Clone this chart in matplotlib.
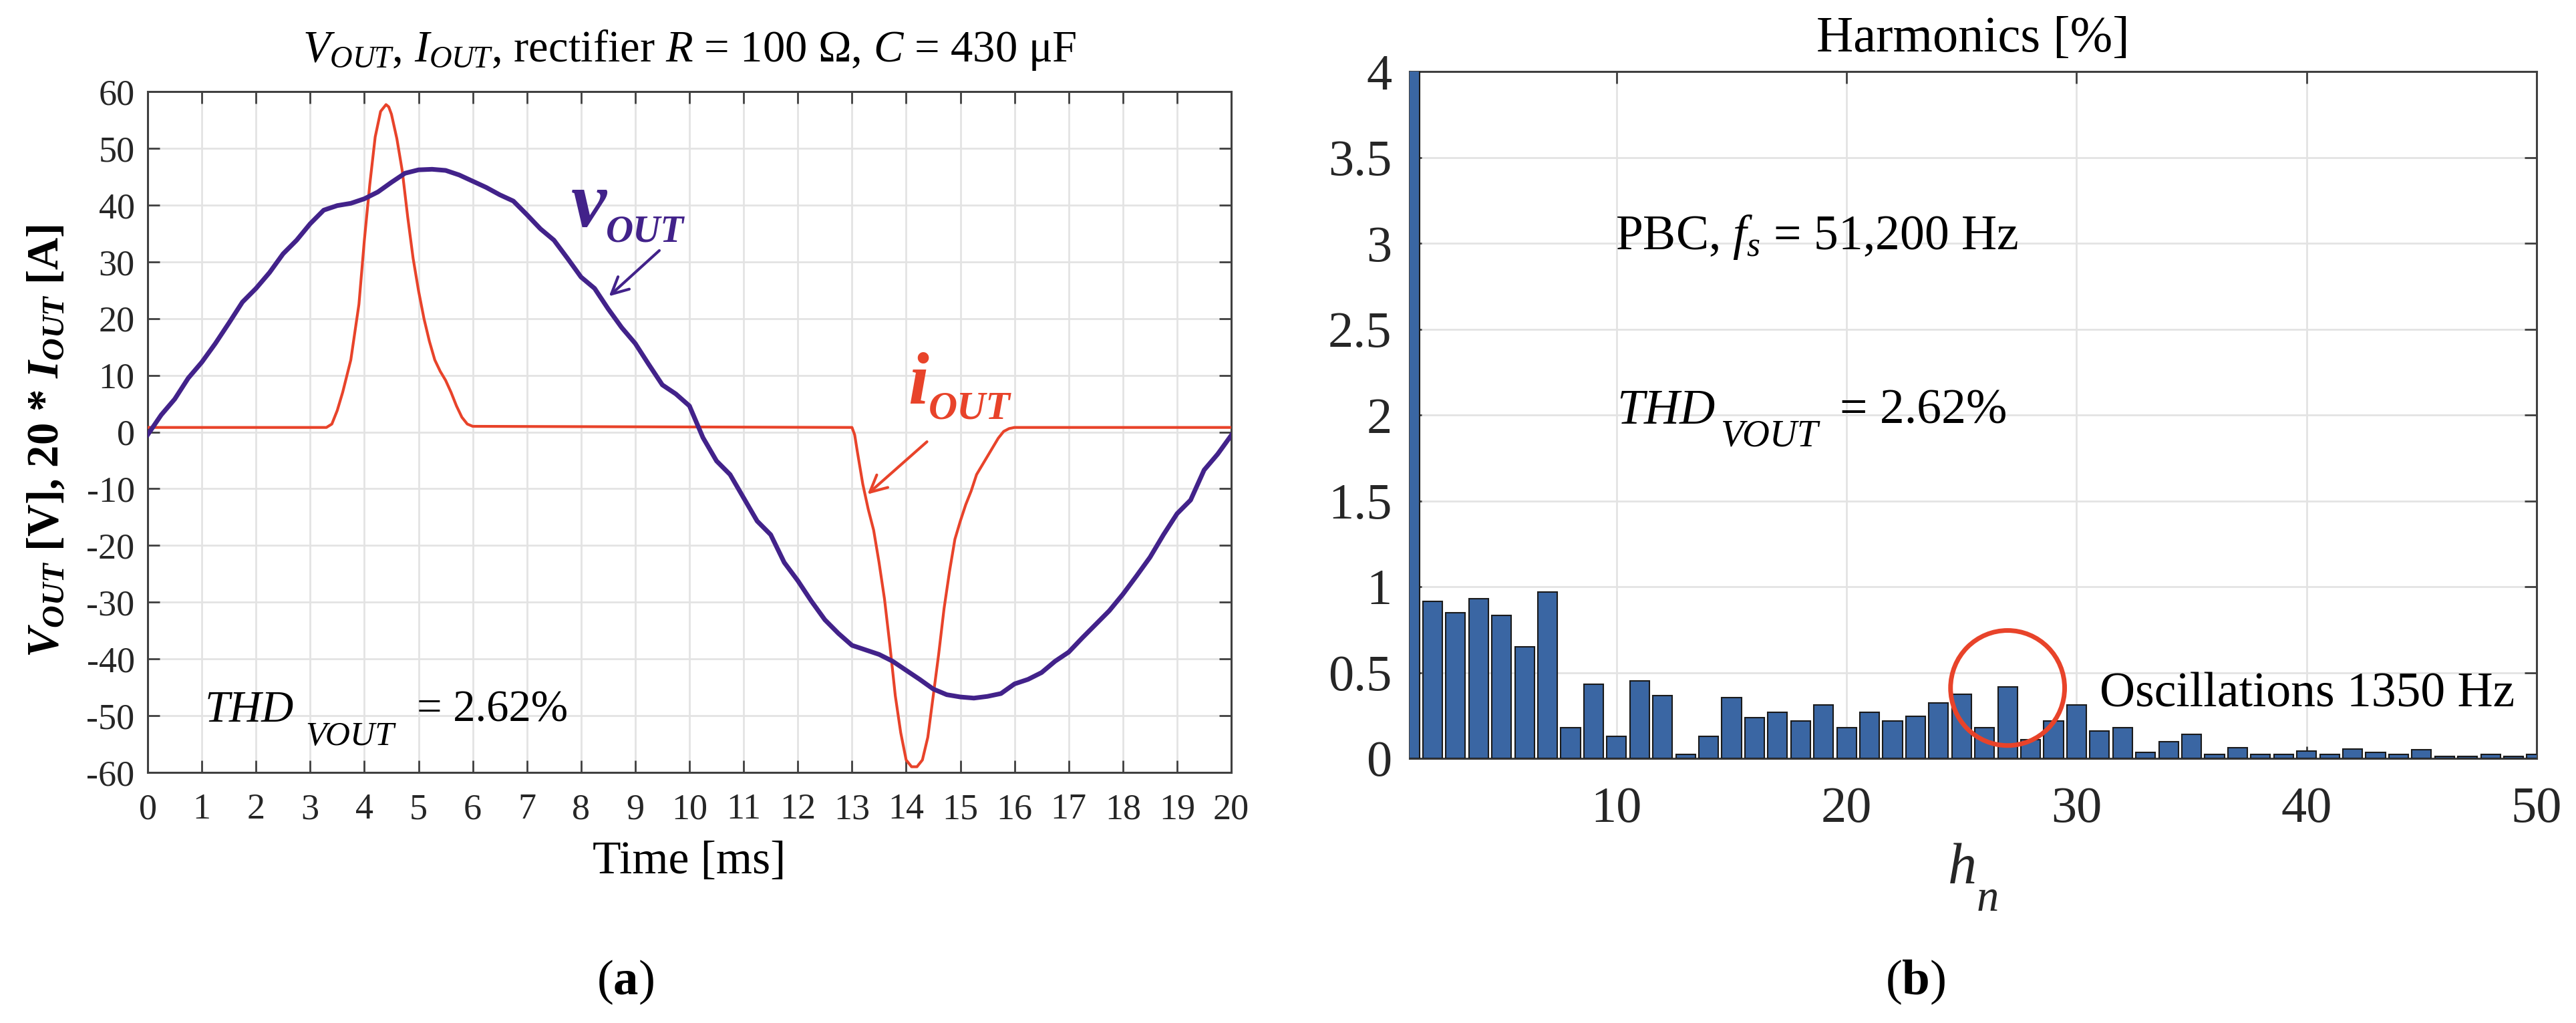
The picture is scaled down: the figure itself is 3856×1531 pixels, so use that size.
import numpy as np
import matplotlib
matplotlib.use("Agg")
import matplotlib.pyplot as plt
from matplotlib.patches import Ellipse

# ============================================
# DATA
# ============================================

# (a) output voltage, sampled every 0.25 ms
t_v = [0, 0.25, 0.5, 0.75, 1, 1.25, 1.5, 1.75, 2, 2.25, 2.5, 2.75, 3, 3.25, 3.5, 3.75,
       4, 4.25, 4.5, 4.75, 5, 5.25, 5.5, 5.75, 6, 6.25, 6.5, 6.75, 7, 7.25, 7.5, 7.75,
       8, 8.25, 8.5, 8.75, 9, 9.25, 9.5, 9.75, 10, 10.25, 10.5, 10.75, 11, 11.25, 11.5,
       11.75, 12, 12.25, 12.5, 12.75, 13, 13.25, 13.5, 13.75, 14, 14.25, 14.5, 14.75,
       15, 15.25, 15.5, 15.75, 16, 16.25, 16.5, 16.75, 17, 17.25, 17.5, 17.75, 18,
       18.25, 18.5, 18.75, 19, 19.25, 19.5, 19.75, 20]
v_out = [-0.5, 3, 5.8, 9.5, 12.3, 15.6, 19.2, 22.9, 25.3, 28.1, 31.4, 33.8, 36.7, 39.1,
         39.9, 40.3, 41.1, 42.3, 44, 45.6, 46.2, 46.3, 46.1, 45.3, 44.2, 43.1, 41.8,
         40.7, 38.3, 35.8, 33.8, 30.6, 27.3, 25.3, 21.7, 18.4, 15.6, 11.9, 8.3, 6.7,
         4.6, -1, -5.1, -7.5, -11.6, -15.7, -18.1, -23, -26.2, -29.8, -33.1, -35.5,
         -37.6, -38.4, -39.2, -40.4, -42, -43.6, -45.3, -46.3, -46.7, -46.9, -46.6,
         -46.1, -44.4, -43.6, -42.4, -40.4, -38.8, -36.3, -33.9, -31.5, -28.6, -25.4,
         -22.1, -18.1, -14.4, -12, -6.7, -3.9, -0.6]

# (a) output current x 20
t_i = [0, 3.3, 3.4, 3.5, 3.6, 3.75, 3.9, 4.0, 4.1, 4.2, 4.3, 4.4, 4.45, 4.5, 4.6, 4.7,
       4.8, 4.9, 5.0, 5.1, 5.2, 5.3, 5.4, 5.5, 5.6, 5.7, 5.8, 5.9, 6.0,
       13.0, 13.05, 13.1, 13.2, 13.3, 13.4, 13.5, 13.6, 13.7, 13.8, 13.9, 14.0, 14.1,
       14.2, 14.3, 14.4, 14.5, 14.6, 14.7, 14.8, 14.9, 15.0, 15.1, 15.2, 15.3, 15.4,
       15.5, 15.6, 15.7, 15.8, 15.9, 16.0, 20]
i_out = [0.8, 0.8, 1.4, 3.8, 7, 12.7, 22.5, 33.8, 43.6, 52, 56.5, 57.7, 57.3, 56, 51.7,
         46, 37.9, 30.6, 24.9, 20, 16, 12.7, 10.7, 9.1, 7, 4.6, 2.6, 1.4, 1.0,
         0.8, -0.5, -3.5, -9.2, -13.6, -17.3, -23, -29.4, -37.6, -46.5, -53, -57.8, -59,
         -59, -57.8, -53.8, -46.5, -39.2, -31.1, -24.6, -18.9, -15.7, -12.8, -10.4,
         -7.5, -5.9, -4.3, -2.7, -1.1, 0.1, 0.6, 0.8, 0.8]

# (b) harmonic spectrum [%], h = 1..50 (h1 is the fundamental, clipped)
harm_n = list(range(1, 51))
harm_pct = [100, 0.915, 0.85, 0.93, 0.834, 0.65, 0.97, 0.18, 0.43, 0.13,
            0.45, 0.364, 0.022, 0.13, 0.353, 0.237, 0.268, 0.217, 0.312, 0.18,
            0.27, 0.217, 0.246, 0.322, 0.373, 0.18, 0.415, 0.11, 0.217, 0.31,
            0.16, 0.18, 0.034, 0.097, 0.139, 0.022, 0.064, 0.022, 0.022, 0.044,
            0.022, 0.054, 0.036, 0.022, 0.049, 0.01, 0.01, 0.022, 0.01, 0.022]

left_yticks = list(range(-60, 61, 10))
left_xticks = list(range(0, 21))
right_xticks = [10, 20, 30, 40, 50]
right_yticks = [0, 0.5, 1, 1.5, 2, 2.5, 3, 3.5, 4]
right_ylabels = ['0', '0.5', '1', '1.5', '2', '2.5', '3', '3.5', '4']

# ============================================
# STYLE
# ============================================

plt.rcParams['font.family'] = ['Liberation Serif', 'DejaVu Serif']
plt.rcParams['mathtext.fontset'] = 'custom'
plt.rcParams['mathtext.rm'] = 'Liberation Serif'
plt.rcParams['mathtext.it'] = 'Liberation Serif:italic'
plt.rcParams['mathtext.bf'] = 'Liberation Serif:bold'
plt.rcParams['mathtext.bfit'] = 'Liberation Serif:bold:italic'
plt.rcParams['axes.unicode_minus'] = False

PURPLE = '#42228a'
RED = '#e8432a'
BAR = '#3a66a3'
GRID = '#e3e3e3'
AXC = '#404040'
TXT = '#262626'

W, H = 3856, 1531
fig = plt.figure(figsize=(W / 100, H / 100), dpi=100)


def frame(ax):
    for sp in ax.spines.values():
        sp.set_color(AXC)
        sp.set_linewidth(2.2)
    ax.tick_params(which='both', direction='in', top=True, right=True,
                   length=13, width=2, color=AXC, labelcolor=TXT)
    ax.grid(True, color=GRID, linewidth=2)
    ax.set_axisbelow(True)


def thd_label(ax, x0, x1, x2, y, dy, size):
    # THD with a large, lowered subscript as in the original
    ax.text(x0, y, 'THD', fontsize=size, style='italic', va='baseline')
    ax.text(x1, y - dy, 'VOUT', fontsize=size * 0.77, style='italic', va='baseline')
    ax.text(x2, y, '= 2.62%', fontsize=size, va='baseline')


# ============================================
# (a) WAVEFORMS
# ============================================

ax1 = fig.add_axes([221 / W, 1 - 1156 / H, 1622 / W, 1019 / H])
frame(ax1)
ax1.plot(t_i, i_out, color=RED, lw=3, zorder=3)
ax1.plot(t_v, v_out, color=PURPLE, lw=5, zorder=4)
ax1.set_xlim(0, 20)
ax1.set_ylim(-60, 60)
ax1.set_xticks(left_xticks)
ax1.set_yticks(left_yticks)
ax1.tick_params(axis='x', labelsize=39, pad=22)
ax1.tick_params(axis='y', labelsize=39, pad=14)

ax1.set_title(r'$V_{OUT}$, $I_{OUT}$, rectifier $R$ = 100 Ω, $C$ = 430 μF',
              fontsize=48, y=1.061, va='center', pad=0)
ax1.set_xlabel('Time [ms]', fontsize=50, va='center')
ax1.xaxis.set_label_coords(0.5, -0.1315)
ax1.set_ylabel(r'$\mathbfit{V}_{\mathbfit{OUT}}$ [V], 20 * $\mathbfit{I}_{\mathbfit{OUT}}$ [A]',
               fontsize=48, fontweight='bold', va='center')
ax1.yaxis.set_label_coords(-0.093, 0.487)

thd_label(ax1, 1.05, 2.91, 4.97, -51, 4.2, 48)

ax1.text(7.81, 36.2, 'v', fontsize=86, fontweight='bold', style='italic',
         color=PURPLE, va='baseline')
ax1.text(8.46, 33.6, 'OUT', fontsize=41, fontweight='bold', style='italic',
         color=PURPLE, va='baseline')
ax1.annotate('', xy=(8.49, 23.7), xytext=(9.47, 32.2),
             arrowprops=dict(arrowstyle='->', color=PURPLE, lw=3,
                             mutation_scale=45))

ax1.text(14.04, 5.0, 'i', fontsize=80, fontweight='bold', style='italic',
         color=RED, va='baseline')
ax1.text(14.41, 2.3, 'OUT', fontsize=43, fontweight='bold', style='italic',
         color=RED, va='baseline')
ax1.annotate('', xy=(13.26, -11.2), xytext=(14.41, -1.5),
             arrowprops=dict(arrowstyle='->', color=RED, lw=3,
                             mutation_scale=45))

# ============================================
# (b) HARMONICS
# ============================================

ax2 = fig.add_axes([2110 / W, 1 - 1135 / H, 1687 / W, 1028 / H])
frame(ax2)
ax2.bar(harm_n, harm_pct, width=0.85, color=BAR, edgecolor='#1a1a1a',
        linewidth=1.5, zorder=3)
ax2.set_xlim(1, 50)
ax2.set_ylim(0, 4)
ax2.set_xticks(right_xticks)
ax2.set_yticks(right_yticks)
ax2.set_yticklabels(right_ylabels)
ax2.tick_params(axis='x', labelsize=55, pad=30)
ax2.tick_params(axis='y', labelsize=55, pad=19)

ax2.set_title('Harmonics [%]', fontsize=55, y=1.047, va='center', pad=0)
ax2.text(0.478, -0.182, 'h', transform=ax2.transAxes, fontsize=62,
         style='italic', va='baseline', color=TXT)
ax2.text(0.503, -0.222, 'n', transform=ax2.transAxes, fontsize=48,
         style='italic', va='baseline', color=TXT)

ax2.text(9.95, 2.965, r'PBC, $f_s$ = 51,200 Hz', fontsize=53, va='baseline')
thd_label(ax2, 10.0, 14.5, 19.7, 1.95, 0.13, 53)
ax2.text(31.0, 0.30, 'Oscillations 1350 Hz', fontsize=53, va='baseline')

ax2.add_patch(Ellipse((27, 0.41), 4.96, 0.67, fill=False, edgecolor=RED,
                      lw=5, zorder=5))

# panel labels
fig.text(936 / W, 1 - 1470 / H, r'($\mathbf{a}$)', fontsize=54, ha='center', va='center')
fig.text(2867 / W, 1 - 1470 / H, r'($\mathbf{b}$)', fontsize=54, ha='center', va='center')

fig.savefig('out.png', dpi=100, facecolor='white')
